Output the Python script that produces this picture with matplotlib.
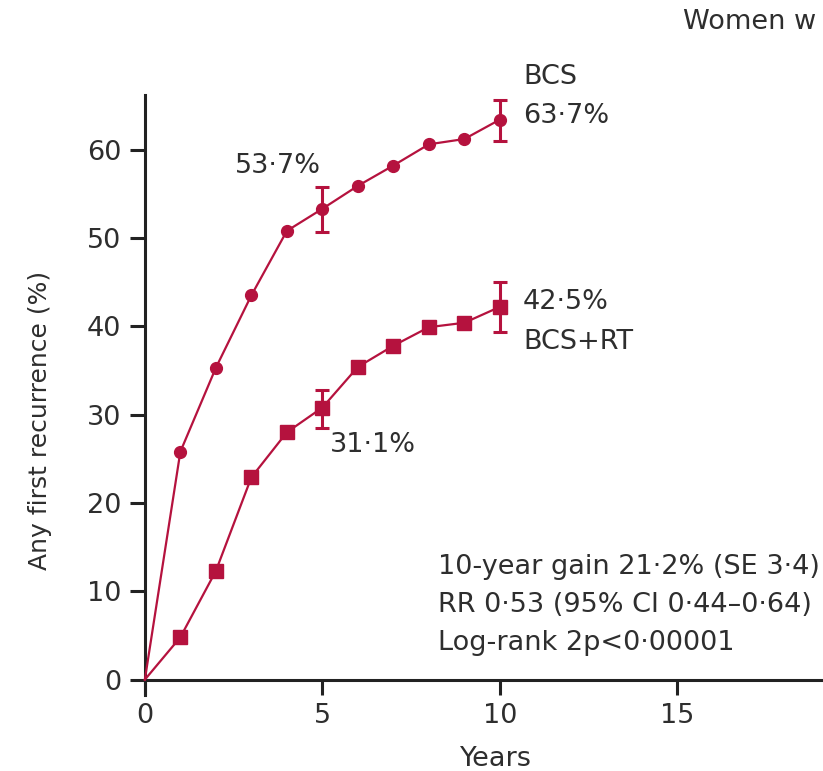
import matplotlib.pyplot as plt

plt.rcParams['font.family'] = ['DejaVu Sans']

RED = '#b5123e'
TXT = '#2e2e2e'

years = [0, 1, 2, 3, 4, 5, 6, 7, 8, 9, 10]
bcs = [0, 25.8, 35.3, 43.5, 50.8, 53.3, 55.9, 58.2, 60.6, 61.2, 63.4]
bcs_rt = [0, 4.8, 12.3, 22.9, 28.0, 30.8, 35.4, 37.8, 39.9, 40.4, 42.2]

# error bars at 5 and 10 years (lower, upper)
err_years = [5, 10]
bcs_err_lo = [50.7, 61.0]
bcs_err_hi = [55.8, 65.6]
rt_err_lo = [28.5, 39.3]
rt_err_hi = [32.8, 45.0]

fig = plt.figure(figsize=(8.23, 7.71), dpi=100)
ax = fig.add_axes([0.176, 0.099, 0.824, 0.778])

ax.plot(years, bcs, color=RED, lw=1.6, marker='o', ms=8.5,
        markevery=slice(1, None), clip_on=False, zorder=3)
ax.plot(years, bcs_rt, color=RED, lw=1.6, marker='s', ms=10,
        markevery=slice(1, None), clip_on=False, zorder=3)

for lo, hi in [(bcs_err_lo, bcs_err_hi), (rt_err_lo, rt_err_hi)]:
    mid = [(a + b) / 2 for a, b in zip(lo, hi)]
    half = [(b - a) / 2 for a, b in zip(lo, hi)]
    ax.errorbar(err_years, mid, yerr=half, fmt='none', ecolor=RED,
                elinewidth=2.2, capsize=5, capthick=2.2, zorder=4)

ax.set_xlim(0, 19.1)
ax.set_ylim(-1.7, 66.2)
ax.spines['bottom'].set_position(('data', 0))
ax.spines['top'].set_visible(False)
ax.spines['right'].set_visible(False)
for s in ['left', 'bottom']:
    ax.spines[s].set_linewidth(2.2)
    ax.spines[s].set_color('#222222')

ax.set_xticks([0, 5, 10, 15])
ax.set_yticks([0, 10, 20, 30, 40, 50, 60])
ax.tick_params(length=11, width=2.2, color='#222222', labelsize=19.5,
               labelcolor=TXT, pad=6)

ax.set_ylabel('Any first recurrence (%)', fontsize=18, color=TXT)
ax.yaxis.set_label_coords(-0.137, 0.458)
ax.set_xlabel('Years', fontsize=19.5, color=TXT)
ax.xaxis.set_label_coords(0.518, -0.085)

kw = dict(fontsize=19.5, color=TXT, clip_on=False)
ax.text(10.65, 68.2, 'BCS', va='center', ha='left', **kw)
ax.text(10.65, 63.8, '63·7%', va='center', ha='left', **kw)
ax.text(2.55, 58.1, '53·7%', va='center', ha='left', **kw)
ax.text(10.65, 42.8, '42·5%', va='center', ha='left', **kw)
ax.text(10.65, 38.2, 'BCS+RT', va='center', ha='left', **kw)
ax.text(5.2, 26.6, '31·1%', va='center', ha='left', **kw)

ax.text(8.25, 12.7, '10-year gain 21·2% (SE 3·4)', va='center', ha='left', **kw)
ax.text(8.25, 8.4, 'RR 0·53 (95% CI 0·44–0·64)', va='center', ha='left', **kw)
ax.text(8.25, 4.2, 'Log-rank 2p<0·00001', va='center', ha='left', **kw)

fig.text(0.83, 0.971, 'Women w', fontsize=19.5, color=TXT, va='center', ha='left')

fig.savefig('out.png', dpi=100)
